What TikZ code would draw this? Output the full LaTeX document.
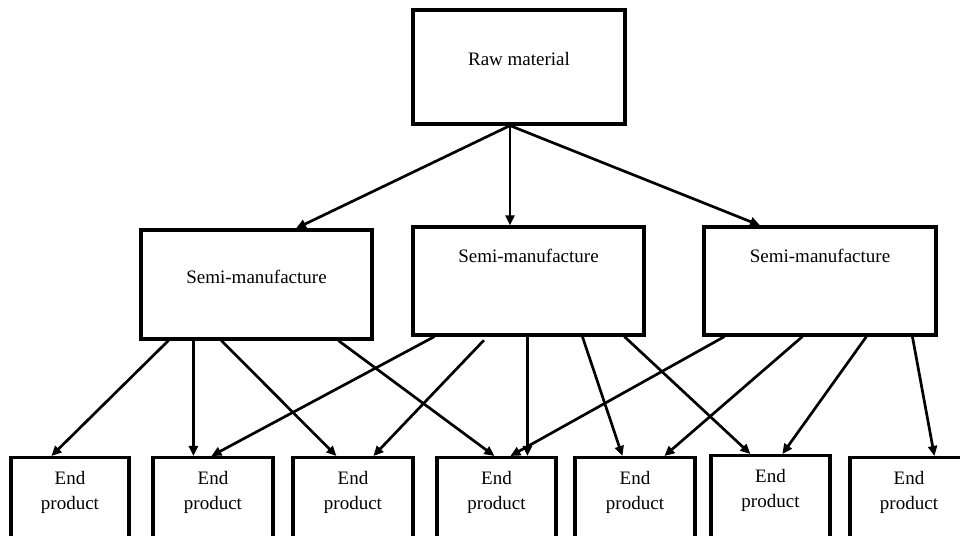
\documentclass[tikz,border=0pt]{standalone}
\usepackage{fontspec}
\setmainfont{Liberation Serif}
\usetikzlibrary{arrows.meta}
\begin{document}
\begin{tikzpicture}[x=1pt,y=1pt,
  box/.style={draw, line width=3.2pt, rectangle, inner sep=0pt},
  lbl/.style={inner sep=0pt, font=\fontsize{19}{25}\selectfont, align=center},
  conn/.style={line width=2.7pt, -{Triangle[length=10pt,width=9pt]}}]
\useasboundingbox (0,0) rectangle (960,535);
\clip (0,0) rectangle (960,535);
% top
\node[box, minimum width=212pt, minimum height=114pt] (T) at (519,468) {};
\node[lbl, anchor=base] (Tt) at (519,469) {Raw material};
% middle
\node[box, minimum width=231pt, minimum height=109pt] (L) at (256.5,250.5) {};
\node[box, minimum width=231pt, minimum height=108pt] (M) at (528.5,254) {};
\node[box, minimum width=232pt, minimum height=108pt] (R) at (820,254) {};
\node[lbl, anchor=base] (Lt) at (256.5,251) {Semi-manufacture};
\node[lbl, anchor=base] (Mt) at (528.5,272) {Semi-manufacture};
\node[lbl, anchor=base] (Rt) at (820,272) {Semi-manufacture};
% bottom
\foreach \n/\x/\w/\t in {b1/70/118/79, b2/213/120/79, b3/353/120/79, b4/496.5/119/79, b5/635/120/79, b6/770.5/119/81, b7/909/118/79}{
  \node[box, anchor=north, minimum width=\w pt, minimum height=100pt] (\n) at (\x,\t) {};
  \node[lbl, anchor=north] (\n t) at ([yshift=-15pt]\n.north) {End\\product};
}
% top arrows
\draw[conn] ([xshift=-9pt]T.south) -- ([xshift=39.5pt]L.north);
\draw[conn] ([xshift=-9pt]T.south) -- ([xshift=-18.5pt]M.north);
\draw[conn] ([xshift=-9pt]T.south) -- ([xshift=-60pt]R.north);
% left box
\draw[conn] ([xshift=29pt]L.south west) -- ([xshift=42pt]b1.north west);
\draw[conn] ([xshift=54pt]L.south west) -- ([xshift=42pt]b2.north west);
\draw[conn] ([xshift=82pt]L.south west) -- ([xshift=45pt]b3.north west);
\draw[conn] ([xshift=199pt]L.south west) -- ([xshift=59pt]b4.north west);
% middle box
\draw[conn] ([xshift=23pt]M.south west) -- ([xshift=60pt]b2.north west);
\draw[conn, shorten <=5pt] ([xshift=76pt]M.south west) -- ([xshift=82pt]b3.north west);
\draw[conn] ([xshift=116pt]M.south west) -- ([xshift=92pt]b4.north west);
\draw[conn] ([xshift=171pt]M.south west) -- ([xshift=49pt]b5.north west);
\draw[conn] ([xshift=213pt]M.south west) -- ([xshift=41pt]b6.north west);
% right box
\draw[conn] ([xshift=22pt]R.south west) -- ([xshift=75pt]b4.north west);
\draw[conn] ([xshift=100pt]R.south west) -- ([xshift=91pt]b5.north west);
\draw[conn] ([xshift=164pt]R.south west) -- ([xshift=73pt]b6.north west);
\draw[conn] ([xshift=210pt]R.south west) -- ([xshift=86pt]b7.north west);
\end{tikzpicture}
\end{document}
